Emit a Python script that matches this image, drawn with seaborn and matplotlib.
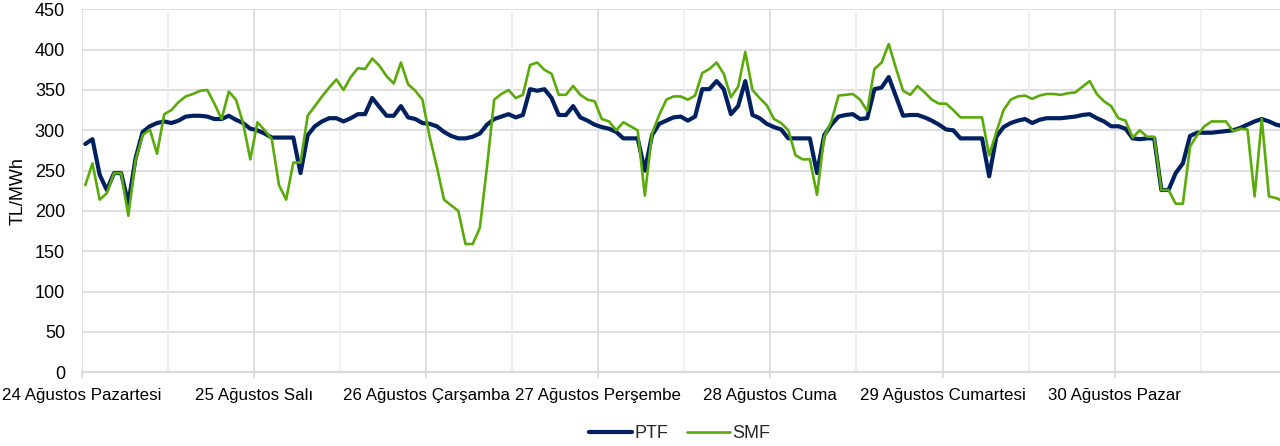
import numpy as np
import pandas as pd
import matplotlib
matplotlib.use("Agg")
import matplotlib.pyplot as plt
from matplotlib.lines import Line2D
import seaborn as sns

days = ["24 Ağustos Pazartesi", "25 Ağustos Salı", "26 Ağustos Çarşamba",
        "27 Ağustos Perşembe", "28 Ağustos Cuma", "29 Ağustos Cumartesi",
        "30 Ağustos Pazar"]

# saatlik fiyatlar, TL/MWh (24 saat x 7 gün)
ptf = [
    283, 289, 245, 226, 247, 247, 209, 265, 298, 305, 309, 311, 309, 312, 317, 318, 318, 317, 314, 314, 318, 313, 309, 302,
    300, 296, 291, 291, 291, 291, 247, 294, 305, 311, 315, 315, 311, 315, 320, 320, 340, 329, 318, 318, 330, 316, 314, 309,
    308, 305, 298, 293, 290, 290, 292, 296, 307, 314, 317, 320, 316, 319, 351, 349, 351, 340, 319, 319, 330, 316, 312, 307,
    304, 302, 298, 290, 290, 290, 250, 294, 308, 312, 316, 317, 312, 317, 351, 351, 361, 351, 320, 330, 361, 319, 315, 308,
    304, 301, 290, 290, 290, 290, 247, 294, 307, 317, 319, 320, 314, 315, 351, 353, 366, 342, 318, 319, 319, 316, 312, 307,
    301, 300, 290, 290, 290, 290, 243, 292, 304, 309, 312, 314, 309, 313, 315, 315, 315, 316, 317, 319, 320, 315, 311, 305,
    305, 302, 290, 289, 290, 290, 226, 226, 247, 259, 293, 297, 297, 297, 298, 299, 300, 303, 307, 311, 314, 311, 307, 305,
]
smf = [
    232, 259, 214, 222, 247, 247, 194, 263, 294, 301, 271, 320, 325, 335, 342, 345, 349, 350, 333, 314, 348, 338, 309, 264,
    310, 300, 289, 232, 214, 260, 260, 318, 330, 342, 353, 363, 350, 366, 377, 376, 389, 380, 367, 358, 384, 357, 349, 338,
    292, 255, 214, 207, 200, 159, 159, 179, 255, 338, 345, 350, 340, 344, 381, 384, 375, 370, 344, 344, 355, 344, 338, 336,
    314, 311, 300, 310, 305, 300, 219, 296, 319, 338, 342, 342, 338, 343, 371, 376, 384, 370, 341, 354, 397, 350, 340, 331,
    314, 309, 300, 269, 264, 264, 220, 292, 311, 343, 344, 345, 338, 324, 376, 384, 407, 377, 349, 344, 355, 347, 338, 333,
    333, 325, 316, 316, 316, 316, 269, 298, 325, 338, 342, 343, 339, 343, 345, 345, 344, 346, 347, 354, 361, 345, 336, 330,
    315, 312, 291, 300, 292, 292, 226, 226, 209, 209, 280, 294, 305, 311, 311, 311, 299, 302, 301, 218, 314, 218, 216, 212,
]

colors = {"PTF": "#002060", "SMF": "#5AAA0A"}
widths = {"PTF": 3.0, "SMF": 1.9}

sns.set_theme(style="white")
plt.rcParams["font.family"] = ["Liberation Sans", "DejaVu Sans"]

saat = np.arange(len(ptf)) + 0.5
df = pd.DataFrame({"saat": np.concatenate([saat, saat]),
                   "fiyat": ptf + smf,
                   "seri": ["PTF"] * len(ptf) + ["SMF"] * len(smf)})

fig = plt.figure(figsize=(12.8, 4.46), dpi=100)
ax = fig.add_axes([81.7 / 1280, 1 - 372.3 / 446, 1205.2 / 1280, (372.3 - 9.3) / 446])

for s in ["PTF", "SMF"]:
    sns.lineplot(data=df[df.seri == s], x="saat", y="fiyat", color=colors[s],
                 lw=widths[s], ax=ax, legend=False, zorder=3)

ax.set_xlim(0, 168)
ax.set_ylim(0, 450)
ax.set_yticks(range(0, 451, 50))
ax.set_xticks(range(0, 145, 24))
ax.set_xticklabels(days)
ax.set_xticks(range(12, 168, 24), minor=True)

for y in range(50, 451, 50):
    ax.axhline(y, color="#D9D9D9", lw=1.2, zorder=1)
for x in range(0, 168, 24):
    ax.axvline(x, color="#D9D9D9", lw=1.2, zorder=1)
for x in range(12, 168, 24):
    ax.axvline(x, color="#EEEEEE", lw=1.2, zorder=1)

for sp in ["top", "right", "left"]:
    ax.spines[sp].set_visible(False)
ax.spines["bottom"].set_color("#D9D9D9")
ax.spines["bottom"].set_linewidth(1.6)

ax.tick_params(axis="y", length=0, pad=12, labelsize=13, labelcolor="black")
ax.tick_params(axis="x", which="major", length=4, width=1.2, color="#D9D9D9",
               pad=7, labelsize=12.2, labelcolor="black", bottom=True)
ax.tick_params(axis="x", which="minor", length=0)
ax.set_xlabel("")
ax.set_ylabel("TL/MWh", fontsize=13, color="black", labelpad=6)

handles = [Line2D([], [], color=colors[s], lw=widths[s]) for s in ["PTF", "SMF"]]
fig.legend(handles, ["PTF", "SMF"], loc="center", bbox_to_anchor=(0.531, 0.028),
           ncol=2, frameon=False, fontsize=13, handlelength=2.4,
           handletextpad=0.15, columnspacing=1.0)

fig.savefig("out.png", dpi=100)
